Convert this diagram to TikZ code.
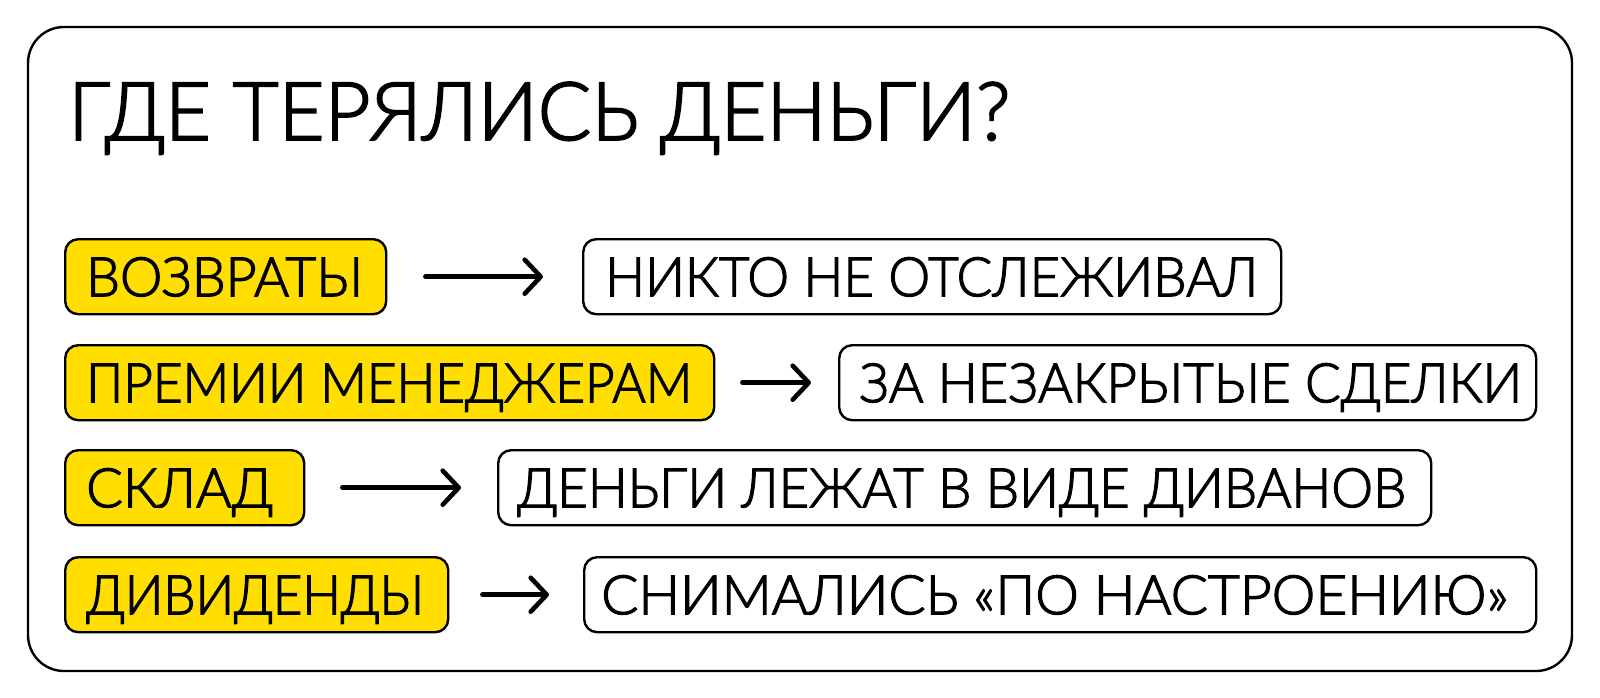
\documentclass[tikz,border=0pt]{standalone}
\usepackage{fontspec}
\setmainfont{Lato}[UprightFont=* Light, UprightFeatures={FakeBold=2.2}]
\usetikzlibrary{arrows.meta}
\definecolor{hiyellow}{HTML}{FFDE00}
\newcommand{\bxt}[4]{\hspace*{#1pt}\resizebox{#2pt}{\height}{#4}\hspace*{#3pt}}
\tikzset{
  basebox/.style={draw=black, line width=2.4pt, rounded corners=13pt, anchor=north west,
    inner xsep=0pt, inner ysep=18pt, text height=39pt, text depth=0pt,
    minimum height=75pt, font=\fontsize{54.4}{60}\selectfont},
  keybox/.style={basebox, fill=hiyellow},
  valbox/.style={basebox, fill=white},
  flow/.style={line width=4.6pt, line cap=round, -{Straight Barb[length=16pt,width=34pt,round]}},
  frame/.style={draw=black, line width=2.4pt, rounded corners=36pt}
}
\begin{document}
\begin{tikzpicture}[x=1pt,y=-1pt]
\useasboundingbox (0,0) rectangle (1600,698);
\fill[white] (0,0) rectangle (1600,698);
\draw[frame] (28,27) rectangle (1572,671);
\node[anchor=base west, inner sep=0pt, font=\fontsize{81}{90}\selectfont] (title) at (68,140)
  {\resizebox{942pt}{\height}{ГДЕ ТЕРЯЛИСЬ ДЕНЬГИ?}};
% row 1
\node[keybox] (k1) at (64,238) {\bxt{21}{277}{23}{ВОЗВРАТЫ}};
\node[valbox] (v1) at (582,238) {\bxt{22}{653}{23}{НИКТО НЕ ОТСЛЕЖИВАЛ}};
\draw[flow, shorten <=38pt, shorten >=39pt] (k1.east) -- (v1.west);
% row 2
\node[keybox] (k2) at (64,344) {\bxt{21}{606}{22}{ПРЕМИИ МЕНЕДЖЕРАМ}};
\node[valbox] (v2) at (838,344) {\bxt{20}{663}{14}{ЗА НЕЗАКРЫТЫЕ СДЕЛКИ}};
\draw[flow, shorten <=27pt, shorten >=27pt] (k2.east) -- (v2.west);
% row 3
\node[keybox] (k3) at (64,449) {\bxt{21}{187}{31}{СКЛАД}};
\node[valbox] (v3) at (497,449) {\bxt{19}{889}{25}{ДЕНЬГИ ЛЕЖАТ В ВИДЕ ДИВАНОВ}};
\draw[flow, shorten <=37pt, shorten >=36pt] (k3.east) -- (v3.west);
% row 4
\node[keybox] (k4) at (64,556) {\bxt{21}{338}{24}{ДИВИДЕНДЫ}};
\node[valbox] (v4) at (583,556) {\bxt{17}{907}{28}{СНИМАЛИСЬ «ПО НАСТРОЕНИЮ»}};
\draw[flow, shorten <=33pt, shorten >=34pt] (k4.east) -- (v4.west);
\end{tikzpicture}
\end{document}
